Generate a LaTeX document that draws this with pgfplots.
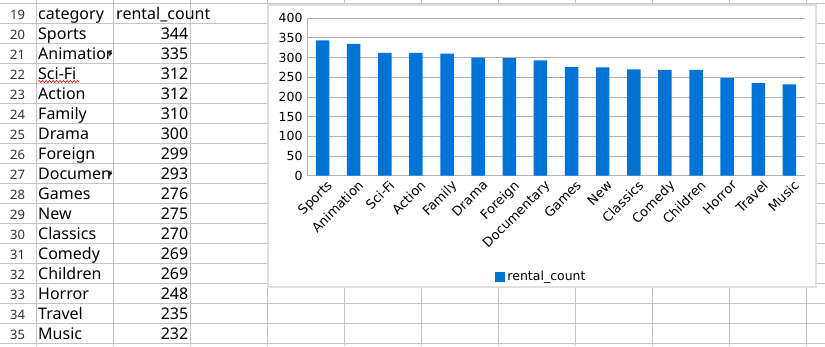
\documentclass[border=0pt]{standalone}
\usepackage{pgfplots}
\pgfplotsset{compat=1.18}
\usepackage{fontspec}
\setmainfont{Noto Sans}
\newfontfamily\chartfont{DejaVu Sans}
\usetikzlibrary{decorations.pathmorphing}
\definecolor{barblue}{HTML}{0074D6}
\definecolor{cellgrid}{HTML}{C4C4C4}
\definecolor{chartgrid}{HTML}{B3B3B3}
\definecolor{rowhead}{HTML}{333333}
\begin{document}
\begin{tikzpicture}
\begin{scope}[x=1pt,y=-1pt]
\useasboundingbox (0,0) rectangle (825,346);
\fill[white] (0,0) rectangle (825,346);
\foreach \i in {0,...,17} \draw[cellgrid, line width=1pt] (0,3.5+20*\i) -- (825,3.5+20*\i);
\foreach \x in {36,113,...,806} \draw[cellgrid, line width=1pt] (\x,0) -- (\x,346);
% row numbers
\foreach \r [count=\i from 0] in {19,...,35}
  \node[anchor=base, inner sep=0, text=rowhead, font=\fontsize{13}{15}\selectfont] at (17.5,19.5+20*\i) {\r};
% column A
\begin{scope}
\clip (36,0) rectangle (111.5,346);
\foreach \t [count=\i from 0] in {category,Sports,Animation,Sci-Fi,Action,Family,Drama,Foreign,Documentary,Games,New,Classics,Comedy,Children,Horror,Travel,Music}
  \node[anchor=base west, inner sep=0, font=\fontsize{16}{18}\selectfont] at (38,19.5+20*\i) {\t};
\end{scope}
\node[anchor=base west, inner sep=0, font=\fontsize{16}{18}\selectfont] at (116,19.5) {rental\_count};
\foreach \v [count=\i from 1] in {344,335,312,312,310,300,299,293,276,275,270,269,269,248,235,232}
  \node[anchor=base east, inner sep=0, font=\fontsize{16}{18}\selectfont] at (188.5,19.5+20*\i) {\v};
\fill[black] (109.3,50.3) -- (112.3,53.3) -- (109.3,56.3) -- cycle;
\fill[black] (109.3,170.3) -- (112.3,173.3) -- (109.3,176.3) -- cycle;
\draw[red!85!black, line width=0.6pt, decorate, decoration={snake, amplitude=1pt, segment length=3.5pt}] (38,81.5) -- (79,81.5);
% chart box
\draw[black!12, line width=1.5pt, fill=white] (268,5) rectangle (816,287);
\end{scope}
\begin{axis}[
  at={(307pt,-175.7pt)}, anchor=south west,
  width=498pt, height=157.4pt, scale only axis,
  ybar, bar width=13.5pt,
  xmin=-0.5, xmax=15.5, ymin=0, ymax=400,
  ytick={0,50,...,400},
  xtick={0,...,15},
  xticklabels={Sports,Animation,Sci-Fi,Action,Family,Drama,Foreign,Documentary,Games,New,Classics,Comedy,Children,Horror,Travel,Music},
  axis x line=bottom, axis y line=left,
  axis line style={chartgrid, line width=1pt, -},
  ymajorgrids, grid style={chartgrid, line width=1pt},
  major tick length=0pt,
  tick label style={font=\chartfont\fontsize{12.5}{14}\selectfont, text=black},
  xticklabel style={font=\chartfont\fontsize{13}{15}\selectfont},
  /pgf/number format/assume math mode=true,
  xticklabel style={rotate=45, anchor=north east, inner sep=1pt, xshift=1pt, yshift=-4pt},
  yticklabel style={xshift=-1pt},
  legend style={at={(0.4709,-0.6404)}, anchor=center, draw=none, fill=none,
    font=\chartfont\fontsize{12.5}{14}\selectfont, inner sep=0pt},
  legend image code/.code={\fill[barblue] (0pt,-5pt) rectangle (10pt,5pt);},
]
\addplot[fill=barblue, draw=none] coordinates {
(0,344) (1,335) (2,312) (3,312) (4,310) (5,300) (6,299) (7,293)
(8,276) (9,275) (10,270) (11,269) (12,269) (13,248) (14,235) (15,232)};
\addlegendentry{rental\_count}
\end{axis}
\end{tikzpicture}
\end{document}
